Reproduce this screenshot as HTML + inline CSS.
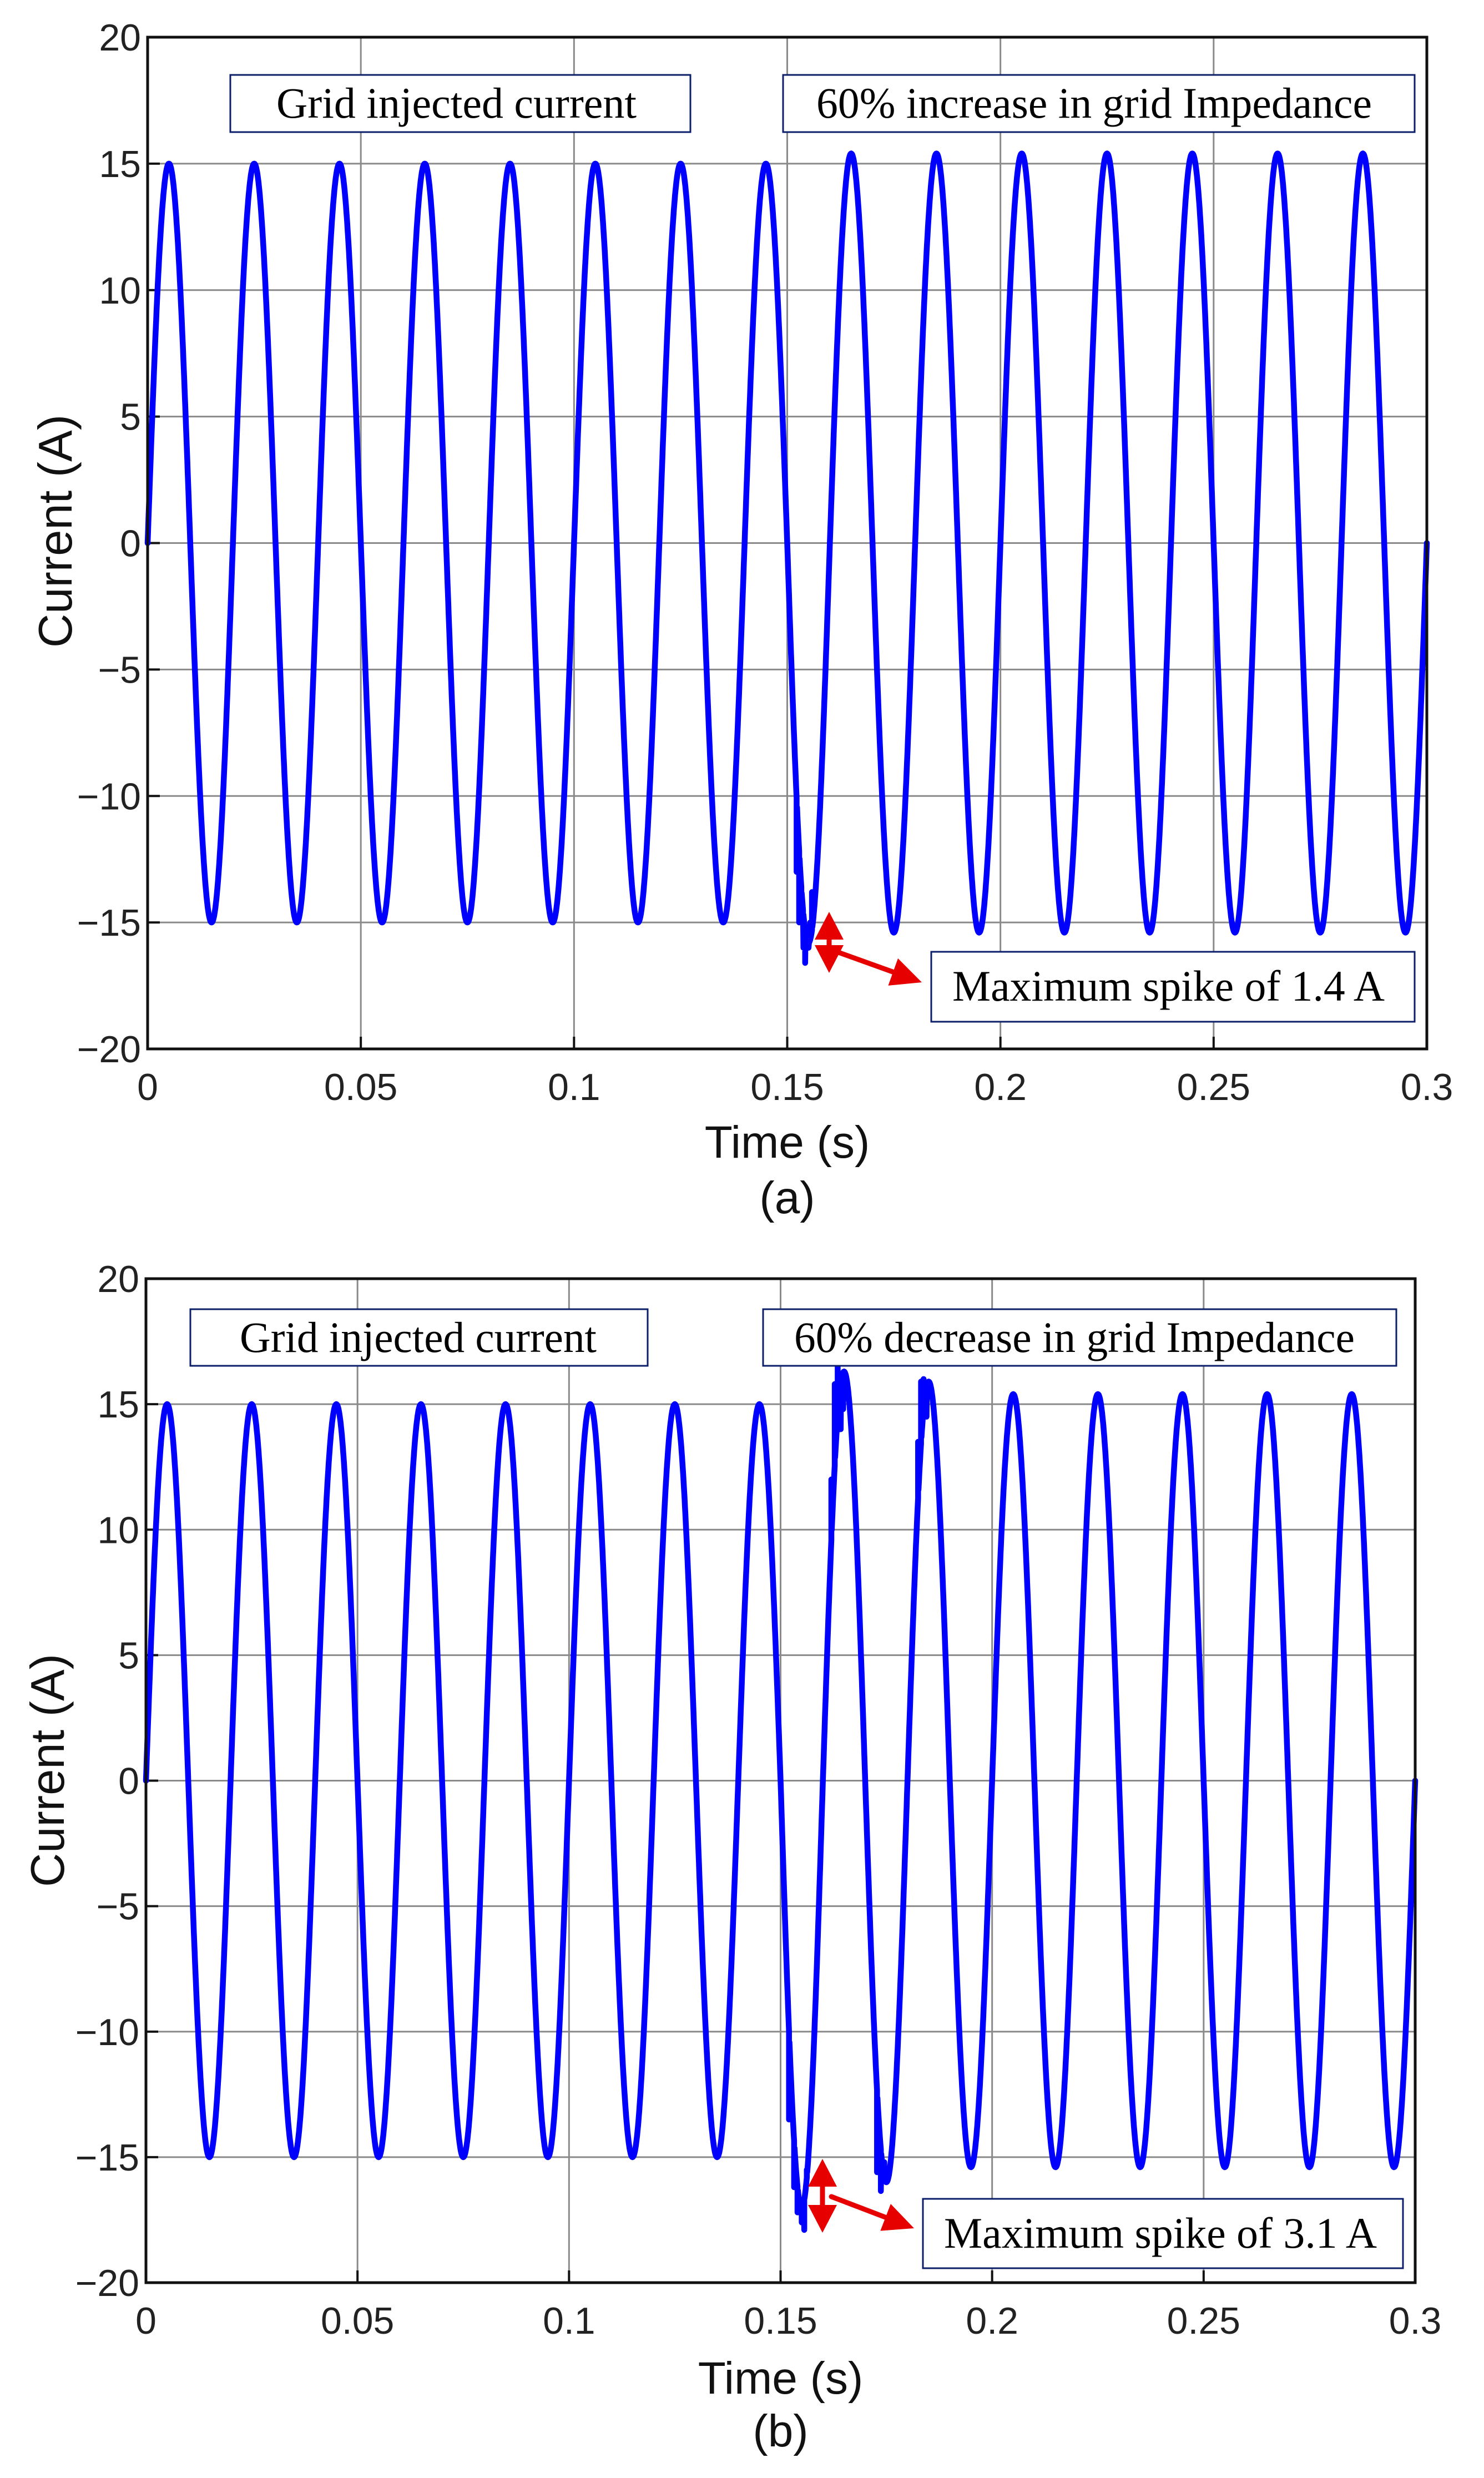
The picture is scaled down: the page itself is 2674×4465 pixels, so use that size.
<!DOCTYPE html>
<html><head><meta charset="utf-8"><style>
html,body{margin:0;padding:0;background:#fff}
svg{display:block}
</style></head><body>
<svg id="fig" width="2674" height="4465" viewBox="0 0 2674 4465" xmlns="http://www.w3.org/2000/svg"></svg>
<script>
// ---- data ----
const xTicks = [0, 0.05, 0.1, 0.15, 0.2, 0.25, 0.3];
const xTickLabels = ["0", "0.05", "0.1", "0.15", "0.2", "0.25", "0.3"];
const yTicks = [20, 15, 10, 5, 0, -5, -10, -15, -20];
const yTickLabels = ["20", "15", "10", "5", "0", "\u22125", "\u221210", "\u221215", "\u221220"];
// half-cycle extrema (50 Hz, 30 half-cycles in 0.3 s)
const extremaA = [15,-15,15,-15,15,-15,15,-15,15,-15,15,-15,15,-15,15,-15.8,15.4,-15.4,15.4,-15.4,15.4,-15.4,15.4,-15.4,15.4,-15.4,15.4,-15.4,15.4,-15.4];
const extremaB = [15,-15,15,-15,15,-15,15,-15,15,-15,15,-15,15,-15,15,-17.0,16.3,-16.0,15.9,-15.4,15.4,-15.4,15.4,-15.4,15.4,-15.4,15.4,-15.4,15.4,-15.4];
// transient jitter samples
const spikeTimesA = [0.1522, 0.1528, 0.1533, 0.1538, 0.1542, 0.1546, 0.1550, 0.1554, 0.1558];
const spikeValsA  = [-13.0, -15.0, -14.2, -16.0, -16.6, -15.4, -16.0, -15.0, -13.8];
const spikeTimesB = [0.1520, 0.1532, 0.1540, 0.1550, 0.1556, 0.1562, 0.1620, 0.1628, 0.1635, 0.1642, 0.1648, 0.1728, 0.1737, 0.1745, 0.1825, 0.1832, 0.1838, 0.1845];
const spikeValsB  = [-13.5, -16.2, -17.2, -17.6, -17.9, -15.5, 12.0, 15.8, 16.5, 14.0, 14.8, -15.6, -16.35, -15.2, 13.5, 15.9, 16.0, 14.5];
const panels = [
  {id:"a", L:266, R:2571, T:67, B:1890, extrema:extremaA, spT:spikeTimesA, spV:spikeValsA,
   boxes:[[415,135,1244,238,"Grid injected current",498,1147,212],[1411,135,2549,238,"60% increase in grid Impedance",1471,2472,212],[1678,1715,2549,1841,"Maximum spike of 1.4 A",1716,2495,1803]],
   varrow:[1494,1643,1753], darrow:[1494,1710,1661,1770], xlab:2086, cap:2186, cap_t:"(a)", ylabX:100, ylabY:957},
  {id:"b", L:263, R:2550, T:2304, B:4113, extrema:extremaB, spT:spikeTimesB, spV:spikeValsB,
   boxes:[[343,2359,1167,2461,"Grid injected current",432,1075,2436],[1375,2359,2516,2461,"60% decrease in grid Impedance",1431,2441,2436],[1663,3962,2528,4087,"Maximum spike of 3.1 A",1701,2481,4050]],
   varrow:[1482,3890,4023], darrow:[1498,3958,1647,4015], xlab:4313, cap:4408, cap_t:"(b)", ylabX:86, ylabY:3190}
];
const NS="http://www.w3.org/2000/svg";
const svg=document.getElementById('fig');
function mk(tag,attrs,parent){const e=document.createElementNS(NS,tag);for(const k in attrs)e.setAttribute(k,attrs[k]);(parent||svg).appendChild(e);return e;}
function wave(t,ext){
  let k=Math.min(ext.length-1,Math.floor(t/0.01));
  const ph=(t-k*0.01)/0.01*Math.PI;
  return Math.abs(ext[k])*Math.sign(ext[k])*Math.sin(ph);
}
panels.forEach(p=>{
  const g=mk('g',{});
  
  
  const sx=t=>p.L+(t-0)/(0.3)*(p.R-p.L);
  const sy=v=>p.T+(20-v)/40*(p.B-p.T);
  xTicks.forEach((t,i)=>{
    if(i>0&&i<xTicks.length-1){const l=mk('line',{x1:sx(t),x2:sx(t),y1:p.T,y2:p.B,stroke:'#8a8a8a','stroke-width':3},g);
    }
    const tx=mk('text',{x:sx(t),y:p.B+92,'text-anchor':'middle','font-family':'Liberation Sans, sans-serif','font-size':68,fill:'#222'},g);
    tx.textContent=xTickLabels[i];
    
    mk('line',{x1:sx(t),x2:sx(t),y1:p.B,y2:p.B-22,stroke:'#111','stroke-width':4},g);
  });
  yTicks.forEach((v,i)=>{
    if(i>0&&i<yTicks.length-1){const l=mk('line',{x1:p.L,x2:p.R,y1:sy(v),y2:sy(v),stroke:'#8a8a8a','stroke-width':3},g);
    }
    const tx=mk('text',{x:p.L-12,y:sy(v)+24,'text-anchor':'end','font-family':'Liberation Sans, sans-serif','font-size':68,fill:'#222'},g);
    tx.textContent=yTickLabels[i];
    
    mk('line',{x1:p.L,x2:p.L+22,y1:sy(v),y2:sy(v),stroke:'#111','stroke-width':4},g);
  });
  const pts=[];
  const N=3000;
  const samples=[];
  for(let i=0;i<=N;i++){samples.push([i/N*0.3,null]);}
  p.spT.forEach((t,i)=>samples.push([t,p.spV[i]]));
  samples.sort((a,b)=>a[0]-b[0]);
  samples.forEach(s=>{const v=s[1]===null?wave(s[0],p.extrema):s[1];pts.push(sx(s[0]).toFixed(1)+','+sy(v).toFixed(1));});
  const line=mk('polyline',{points:pts.join(' '),fill:'none',stroke:'#0000ff','stroke-width':10.5,'stroke-linejoin':'round','stroke-linecap':'round'},g);
  
  const ax=mk('rect',{x:p.L,y:p.T,width:p.R-p.L,height:p.B-p.T,fill:'none',stroke:'#111','stroke-width':5},g);
  
  p.boxes.forEach((b,i)=>{
    const r=mk('rect',{x:b[0],y:b[1],width:b[2]-b[0],height:b[3]-b[1],fill:'#fff',stroke:'#0b1f6b','stroke-width':3},g);
    
    const t=mk('text',{x:b[5],y:b[7],textLength:b[6]-b[5],lengthAdjust:'spacingAndGlyphs','font-family':'Liberation Serif, serif','font-size':78,fill:'#000'},g);
    t.textContent=b[4];
    
  });
  const va=p.varrow, red='#e60000';
  const ag=mk('g',{},g);
  
  mk('line',{x1:va[0],x2:va[0],y1:va[1]+40,y2:va[2]-40,stroke:red,'stroke-width':9},ag);
  mk('polygon',{points:`${va[0]},${va[1]} ${va[0]-26},${va[1]+50} ${va[0]+26},${va[1]+50}`,fill:red},ag);
  mk('polygon',{points:`${va[0]},${va[2]} ${va[0]-26},${va[2]-50} ${va[0]+26},${va[2]-50}`,fill:red},ag);
  const d=p.darrow;const ang=Math.atan2(d[3]-d[1],d[2]-d[0]);
  const bx=d[2]-55*Math.cos(ang), by=d[3]-55*Math.sin(ang);
  mk('line',{x1:d[0],y1:d[1],x2:bx,y2:by,stroke:red,'stroke-width':9,'stroke-linecap':'round'},ag);
  const px=-Math.sin(ang)*26, py=Math.cos(ang)*26;
  mk('polygon',{points:`${d[2]},${d[3]} ${bx+px},${by+py} ${bx-px},${by-py}`,fill:red},ag);
  const xl=mk('text',{x:(p.L+p.R)/2,y:p.xlab,'text-anchor':'middle','font-family':'Liberation Sans, sans-serif','font-size':82,fill:'#111'},g);
  xl.textContent='Time (s)';
  const cp=mk('text',{x:(p.L+p.R)/2,y:p.cap,'text-anchor':'middle','font-family':'Liberation Sans, sans-serif','font-size':82,fill:'#111'},g);
  cp.textContent=p.cap_t;
  const yl=mk('text',{x:p.ylabX,y:p.ylabY,'text-anchor':'middle','font-family':'Liberation Sans, sans-serif','font-size':85,fill:'#111',transform:`rotate(-90 ${p.ylabX} ${p.ylabY}) translate(0 29)`},g);
  yl.textContent='Current (A)';
});
</script>
</body></html>
